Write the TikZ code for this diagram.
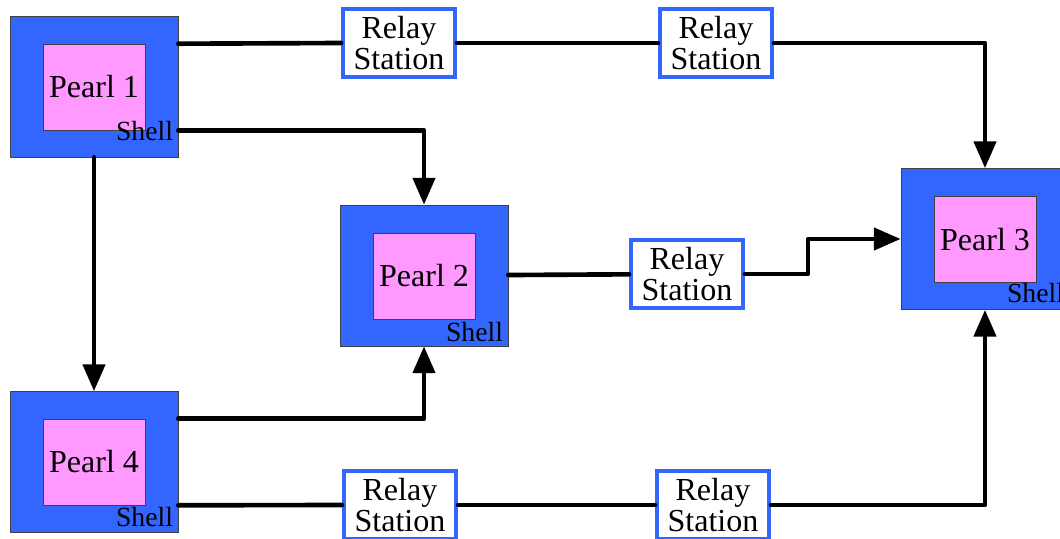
\documentclass[tikz,border=0pt]{standalone}
\usepackage{fontspec}
\setmainfont{Liberation Serif}
\usetikzlibrary{positioning,arrows.meta}
\definecolor{bleucoq}{HTML}{3366FF}
\definecolor{roseperle}{HTML}{FF99FF}
\begin{document}
\begin{tikzpicture}[x=0.025cm,y=-0.025cm]
% Styles
\tikzstyle{coquille}=[draw=black!75,thin,fill=bleucoq,minimum width=4.2cm,minimum height=3.525cm,inner sep=0pt]
\tikzstyle{perle}=[draw=black!75,thin,fill=roseperle,minimum width=2.55cm,minimum height=2.15cm,inner sep=0pt,font=\rmfamily\fontsize{22.8}{24}\selectfont]
\tikzstyle{relais}=[draw=bleucoq,line width=2.8pt,fill=white,minimum width=2.8cm,minimum height=1.7cm,inner sep=0pt,align=center,font=\rmfamily\fontsize{22.8}{22}\selectfont]
\tikzstyle{etiquette}=[anchor=base east,inner sep=0pt,font=\rmfamily\fontsize{19.7}{20}\selectfont]
\tikzstyle{liaison}=[line width=3.3pt,line cap=round,line join=round]
\tikzstyle{fleche}=[liaison,-{Triangle[length=19pt,width=15.5pt]}]
% Cadre de la figure
\useasboundingbox (0,0) rectangle (1060,539);
% Coquilles et perles
\node[coquille] (coqA) at (94,86.5) {};
\node[perle] (perleA) at (94,87) {Pearl 1};
\node[etiquette] (shellA) at ([shift={(-5,-17)}]coqA.south east) {Shell};
\node[coquille] (coqB) at (424,275.5) {};
\node[perle] (perleB) at (424,276) {Pearl 2};
\node[etiquette] (shellB) at ([shift={(-5,-5)}]coqB.south east) {Shell};
\node[coquille] (coqC) at (985,239) {};
\node[perle] (perleC) at (985,239.5) {Pearl 3};
\node[etiquette] (shellC) at ([shift={(-5,-7)}]coqC.south east) {Shell};
\node[coquille] (coqD) at (94,462) {};
\node[perle] (perleD) at (94,462) {Pearl 4};
\node[etiquette] (shellD) at ([shift={(-5,-6)}]coqD.south east) {Shell};
% Stations relais
\node[relais] (relaisA) at (399,43) {Relay\\Station};
\node[relais] (relaisB) at (716,43) {Relay\\Station};
\node[relais] (relaisC) at (687,274) {Relay\\Station};
\node[relais] (relaisD) at (400,505) {Relay\\Station};
\node[relais] (relaisE) at (713,505) {Relay\\Station};
% Liaisons du haut
\draw[liaison] (perleA.north -| coqA.east) -- (relaisA.west);
\draw[liaison] (relaisA) -- (relaisB);
\draw[fleche] (relaisB.east) -| (coqC.north);
\draw[fleche] (perleA.south -| coqA.east) -| (coqB.north);
\draw[fleche] (coqA) -- (coqD);
% Liaisons du milieu
\draw[liaison] (coqB) -- (relaisC);
\draw[fleche] (relaisC.east) -- ++(63,0) |- (coqC.west);
% Liaisons du bas
\draw[fleche] (perleD.north -| coqD.east) -| (coqB.south);
\draw[liaison] (perleD.south -| coqD.east) -- (relaisD.west);
\draw[liaison] (relaisD) -- (relaisE);
\draw[fleche] (relaisE.east) -| (coqC.south);
\end{tikzpicture}
\end{document}
